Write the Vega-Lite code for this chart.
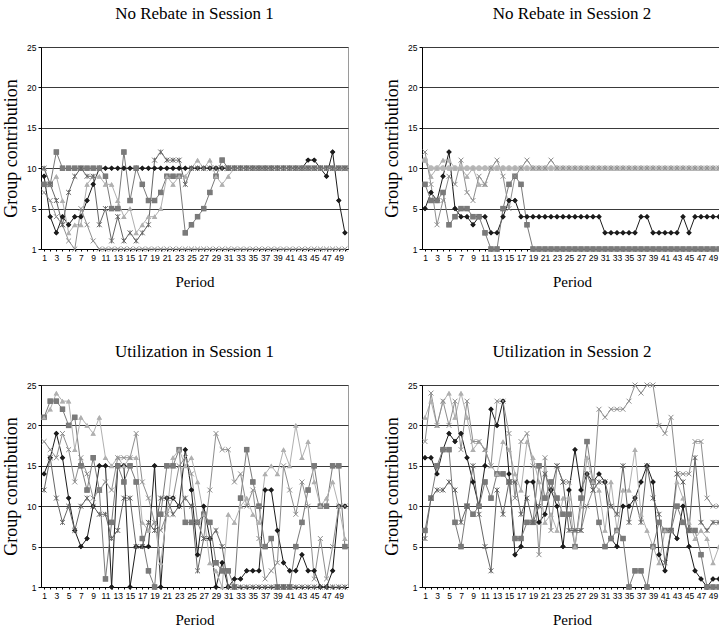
{
"$schema": "https://vega.github.io/schema/vega-lite/v6.json",
"padding": {"left": 2, "top": 4, "right": 0, "bottom": 0},
"background": "white",
"datasets": {
"nr1": [
{"s":"A","t":1,"v":9},{"s":"A","t":2,"v":4},{"s":"A","t":3,"v":2},{"s":"A","t":4,"v":4},{"s":"A","t":5,"v":3},{"s":"A","t":6,"v":4},{"s":"A","t":7,"v":4},{"s":"A","t":8,"v":6},{"s":"A","t":9,"v":8},{"s":"A","t":10,"v":10},
{"s":"A","t":11,"v":10},{"s":"A","t":12,"v":10},{"s":"A","t":13,"v":10},{"s":"A","t":14,"v":10},{"s":"A","t":15,"v":10},{"s":"A","t":16,"v":10},{"s":"A","t":17,"v":10},{"s":"A","t":18,"v":10},{"s":"A","t":19,"v":10},{"s":"A","t":20,"v":10},
{"s":"A","t":21,"v":10},{"s":"A","t":22,"v":10},{"s":"A","t":23,"v":10},{"s":"A","t":24,"v":10},{"s":"A","t":25,"v":10},{"s":"A","t":26,"v":10},{"s":"A","t":27,"v":10},{"s":"A","t":28,"v":10},{"s":"A","t":29,"v":10},{"s":"A","t":30,"v":10},
{"s":"A","t":31,"v":10},{"s":"A","t":32,"v":10},{"s":"A","t":33,"v":10},{"s":"A","t":34,"v":10},{"s":"A","t":35,"v":10},{"s":"A","t":36,"v":10},{"s":"A","t":37,"v":10},{"s":"A","t":38,"v":10},{"s":"A","t":39,"v":10},{"s":"A","t":40,"v":10},
{"s":"A","t":41,"v":10},{"s":"A","t":42,"v":10},{"s":"A","t":43,"v":10},{"s":"A","t":44,"v":11},{"s":"A","t":45,"v":11},{"s":"A","t":46,"v":10},{"s":"A","t":47,"v":9},{"s":"A","t":48,"v":12},{"s":"A","t":49,"v":6},{"s":"A","t":50,"v":2},
{"s":"B","t":1,"v":8},{"s":"B","t":2,"v":8},{"s":"B","t":3,"v":12},{"s":"B","t":4,"v":10},{"s":"B","t":5,"v":10},{"s":"B","t":6,"v":10},{"s":"B","t":7,"v":10},{"s":"B","t":8,"v":10},{"s":"B","t":9,"v":10},{"s":"B","t":10,"v":10},
{"s":"B","t":11,"v":9},{"s":"B","t":12,"v":5},{"s":"B","t":13,"v":5},{"s":"B","t":14,"v":12},{"s":"B","t":15,"v":6},{"s":"B","t":16,"v":10},{"s":"B","t":17,"v":8},{"s":"B","t":18,"v":6},{"s":"B","t":19,"v":6},{"s":"B","t":20,"v":7},
{"s":"B","t":21,"v":9},{"s":"B","t":22,"v":9},{"s":"B","t":23,"v":9},{"s":"B","t":24,"v":2},{"s":"B","t":25,"v":3},{"s":"B","t":26,"v":4},{"s":"B","t":27,"v":5},{"s":"B","t":28,"v":7},{"s":"B","t":29,"v":9},{"s":"B","t":30,"v":11},
{"s":"B","t":31,"v":10},{"s":"B","t":32,"v":10},{"s":"B","t":33,"v":10},{"s":"B","t":34,"v":10},{"s":"B","t":35,"v":10},{"s":"B","t":36,"v":10},{"s":"B","t":37,"v":10},{"s":"B","t":38,"v":10},{"s":"B","t":39,"v":10},{"s":"B","t":40,"v":10},
{"s":"B","t":41,"v":10},{"s":"B","t":42,"v":10},{"s":"B","t":43,"v":10},{"s":"B","t":44,"v":10},{"s":"B","t":45,"v":10},{"s":"B","t":46,"v":10},{"s":"B","t":47,"v":10},{"s":"B","t":48,"v":10},{"s":"B","t":49,"v":10},{"s":"B","t":50,"v":10},
{"s":"C","t":1,"v":10},{"s":"C","t":2,"v":8},{"s":"C","t":3,"v":9},{"s":"C","t":4,"v":6},{"s":"C","t":5,"v":2},{"s":"C","t":6,"v":3},{"s":"C","t":7,"v":3},{"s":"C","t":8,"v":8},{"s":"C","t":9,"v":9},{"s":"C","t":10,"v":9},
{"s":"C","t":11,"v":8},{"s":"C","t":12,"v":8},{"s":"C","t":13,"v":6},{"s":"C","t":14,"v":4},{"s":"C","t":15,"v":5},{"s":"C","t":16,"v":2},{"s":"C","t":17,"v":3},{"s":"C","t":18,"v":4},{"s":"C","t":19,"v":4},{"s":"C","t":20,"v":5},
{"s":"C","t":21,"v":9},{"s":"C","t":22,"v":8},{"s":"C","t":23,"v":9},{"s":"C","t":24,"v":9},{"s":"C","t":25,"v":10},{"s":"C","t":26,"v":11},{"s":"C","t":27,"v":10},{"s":"C","t":28,"v":11},{"s":"C","t":29,"v":9},{"s":"C","t":30,"v":8},
{"s":"C","t":31,"v":9},{"s":"C","t":32,"v":10},{"s":"C","t":33,"v":10},{"s":"C","t":34,"v":10},{"s":"C","t":35,"v":10},{"s":"C","t":36,"v":10},{"s":"C","t":37,"v":10},{"s":"C","t":38,"v":10},{"s":"C","t":39,"v":10},{"s":"C","t":40,"v":10},
{"s":"C","t":41,"v":10},{"s":"C","t":42,"v":10},{"s":"C","t":43,"v":10},{"s":"C","t":44,"v":10},{"s":"C","t":45,"v":10},{"s":"C","t":46,"v":10},{"s":"C","t":47,"v":10},{"s":"C","t":48,"v":10},{"s":"C","t":49,"v":10},{"s":"C","t":50,"v":10},
{"s":"D","t":1,"v":7},{"s":"D","t":2,"v":6},{"s":"D","t":3,"v":4},{"s":"D","t":4,"v":3},{"s":"D","t":5,"v":1},{"s":"D","t":6,"v":0},{"s":"D","t":7,"v":5},{"s":"D","t":8,"v":3},{"s":"D","t":9,"v":1},{"s":"D","t":10,"v":0},
{"s":"D","t":11,"v":0},{"s":"D","t":12,"v":0},{"s":"D","t":13,"v":0},{"s":"D","t":14,"v":0},{"s":"D","t":15,"v":0},{"s":"D","t":16,"v":0},{"s":"D","t":17,"v":0},{"s":"D","t":18,"v":0},{"s":"D","t":19,"v":0},{"s":"D","t":20,"v":0},
{"s":"D","t":21,"v":0},{"s":"D","t":22,"v":0},{"s":"D","t":23,"v":0},{"s":"D","t":24,"v":0},{"s":"D","t":25,"v":0},{"s":"D","t":26,"v":0},{"s":"D","t":27,"v":0},{"s":"D","t":28,"v":0},{"s":"D","t":29,"v":0},{"s":"D","t":30,"v":0},
{"s":"D","t":31,"v":0},{"s":"D","t":32,"v":0},{"s":"D","t":33,"v":0},{"s":"D","t":34,"v":0},{"s":"D","t":35,"v":0},{"s":"D","t":36,"v":0},{"s":"D","t":37,"v":0},{"s":"D","t":38,"v":0},{"s":"D","t":39,"v":0},{"s":"D","t":40,"v":0},
{"s":"D","t":41,"v":0},{"s":"D","t":42,"v":0},{"s":"D","t":43,"v":0},{"s":"D","t":44,"v":0},{"s":"D","t":45,"v":0},{"s":"D","t":46,"v":0},{"s":"D","t":47,"v":0},{"s":"D","t":48,"v":0},{"s":"D","t":49,"v":0},{"s":"D","t":50,"v":0},
{"s":"E","t":1,"v":10},{"s":"E","t":2,"v":8},{"s":"E","t":3,"v":6},{"s":"E","t":4,"v":3},{"s":"E","t":5,"v":7},{"s":"E","t":6,"v":9},{"s":"E","t":7,"v":10},{"s":"E","t":8,"v":9},{"s":"E","t":9,"v":9},{"s":"E","t":10,"v":3},
{"s":"E","t":11,"v":5},{"s":"E","t":12,"v":1},{"s":"E","t":13,"v":4},{"s":"E","t":14,"v":1},{"s":"E","t":15,"v":2},{"s":"E","t":16,"v":1},{"s":"E","t":17,"v":2},{"s":"E","t":18,"v":3},{"s":"E","t":19,"v":11},{"s":"E","t":20,"v":12},
{"s":"E","t":21,"v":11},{"s":"E","t":22,"v":11},{"s":"E","t":23,"v":11},{"s":"E","t":24,"v":8},{"s":"E","t":25,"v":10},{"s":"E","t":26,"v":10},{"s":"E","t":27,"v":10},{"s":"E","t":28,"v":10},{"s":"E","t":29,"v":10},{"s":"E","t":30,"v":10},
{"s":"E","t":31,"v":10},{"s":"E","t":32,"v":10},{"s":"E","t":33,"v":10},{"s":"E","t":34,"v":10},{"s":"E","t":35,"v":10},{"s":"E","t":36,"v":10},{"s":"E","t":37,"v":10},{"s":"E","t":38,"v":10},{"s":"E","t":39,"v":10},{"s":"E","t":40,"v":10},
{"s":"E","t":41,"v":10},{"s":"E","t":42,"v":10},{"s":"E","t":43,"v":10},{"s":"E","t":44,"v":10},{"s":"E","t":45,"v":10},{"s":"E","t":46,"v":10},{"s":"E","t":47,"v":10},{"s":"E","t":48,"v":10},{"s":"E","t":49,"v":10},{"s":"E","t":50,"v":10}
],
"nr2": [
{"s":"A","t":1,"v":5},{"s":"A","t":2,"v":7},{"s":"A","t":3,"v":6},{"s":"A","t":4,"v":9},{"s":"A","t":5,"v":12},{"s":"A","t":6,"v":5},{"s":"A","t":7,"v":4},{"s":"A","t":8,"v":4},{"s":"A","t":9,"v":3},{"s":"A","t":10,"v":4},
{"s":"A","t":11,"v":4},{"s":"A","t":12,"v":2},{"s":"A","t":13,"v":2},{"s":"A","t":14,"v":4},{"s":"A","t":15,"v":6},{"s":"A","t":16,"v":6},{"s":"A","t":17,"v":4},{"s":"A","t":18,"v":4},{"s":"A","t":19,"v":4},{"s":"A","t":20,"v":4},
{"s":"A","t":21,"v":4},{"s":"A","t":22,"v":4},{"s":"A","t":23,"v":4},{"s":"A","t":24,"v":4},{"s":"A","t":25,"v":4},{"s":"A","t":26,"v":4},{"s":"A","t":27,"v":4},{"s":"A","t":28,"v":4},{"s":"A","t":29,"v":4},{"s":"A","t":30,"v":4},
{"s":"A","t":31,"v":2},{"s":"A","t":32,"v":2},{"s":"A","t":33,"v":2},{"s":"A","t":34,"v":2},{"s":"A","t":35,"v":2},{"s":"A","t":36,"v":2},{"s":"A","t":37,"v":4},{"s":"A","t":38,"v":4},{"s":"A","t":39,"v":2},{"s":"A","t":40,"v":2},
{"s":"A","t":41,"v":2},{"s":"A","t":42,"v":2},{"s":"A","t":43,"v":2},{"s":"A","t":44,"v":4},{"s":"A","t":45,"v":2},{"s":"A","t":46,"v":4},{"s":"A","t":47,"v":4},{"s":"A","t":48,"v":4},{"s":"A","t":49,"v":4},{"s":"A","t":50,"v":4},
{"s":"B","t":1,"v":8},{"s":"B","t":2,"v":6},{"s":"B","t":3,"v":6},{"s":"B","t":4,"v":7},{"s":"B","t":5,"v":3},{"s":"B","t":6,"v":4},{"s":"B","t":7,"v":5},{"s":"B","t":8,"v":5},{"s":"B","t":9,"v":4},{"s":"B","t":10,"v":4},
{"s":"B","t":11,"v":2},{"s":"B","t":12,"v":0},{"s":"B","t":13,"v":0},{"s":"B","t":14,"v":5},{"s":"B","t":15,"v":8},{"s":"B","t":16,"v":9},{"s":"B","t":17,"v":8},{"s":"B","t":18,"v":3},{"s":"B","t":19,"v":0},{"s":"B","t":20,"v":0},
{"s":"B","t":21,"v":0},{"s":"B","t":22,"v":0},{"s":"B","t":23,"v":0},{"s":"B","t":24,"v":0},{"s":"B","t":25,"v":0},{"s":"B","t":26,"v":0},{"s":"B","t":27,"v":0},{"s":"B","t":28,"v":0},{"s":"B","t":29,"v":0},{"s":"B","t":30,"v":0},
{"s":"B","t":31,"v":0},{"s":"B","t":32,"v":0},{"s":"B","t":33,"v":0},{"s":"B","t":34,"v":0},{"s":"B","t":35,"v":0},{"s":"B","t":36,"v":0},{"s":"B","t":37,"v":0},{"s":"B","t":38,"v":0},{"s":"B","t":39,"v":0},{"s":"B","t":40,"v":0},
{"s":"B","t":41,"v":0},{"s":"B","t":42,"v":0},{"s":"B","t":43,"v":0},{"s":"B","t":44,"v":0},{"s":"B","t":45,"v":0},{"s":"B","t":46,"v":0},{"s":"B","t":47,"v":0},{"s":"B","t":48,"v":0},{"s":"B","t":49,"v":0},{"s":"B","t":50,"v":0},
{"s":"C","t":1,"v":11},{"s":"C","t":2,"v":9},{"s":"C","t":3,"v":10},{"s":"C","t":4,"v":11},{"s":"C","t":5,"v":11},{"s":"C","t":6,"v":10},{"s":"C","t":7,"v":10},{"s":"C","t":8,"v":9},{"s":"C","t":9,"v":10},{"s":"C","t":10,"v":8},
{"s":"C","t":11,"v":8},{"s":"C","t":12,"v":10},{"s":"C","t":13,"v":10},{"s":"C","t":14,"v":10},{"s":"C","t":15,"v":10},{"s":"C","t":16,"v":10},{"s":"C","t":17,"v":10},{"s":"C","t":18,"v":10},{"s":"C","t":19,"v":10},{"s":"C","t":20,"v":10},
{"s":"C","t":21,"v":10},{"s":"C","t":22,"v":10},{"s":"C","t":23,"v":10},{"s":"C","t":24,"v":10},{"s":"C","t":25,"v":10},{"s":"C","t":26,"v":10},{"s":"C","t":27,"v":10},{"s":"C","t":28,"v":10},{"s":"C","t":29,"v":10},{"s":"C","t":30,"v":10},
{"s":"C","t":31,"v":10},{"s":"C","t":32,"v":10},{"s":"C","t":33,"v":10},{"s":"C","t":34,"v":10},{"s":"C","t":35,"v":10},{"s":"C","t":36,"v":10},{"s":"C","t":37,"v":10},{"s":"C","t":38,"v":10},{"s":"C","t":39,"v":10},{"s":"C","t":40,"v":10},
{"s":"C","t":41,"v":10},{"s":"C","t":42,"v":10},{"s":"C","t":43,"v":10},{"s":"C","t":44,"v":10},{"s":"C","t":45,"v":10},{"s":"C","t":46,"v":10},{"s":"C","t":47,"v":10},{"s":"C","t":48,"v":10},{"s":"C","t":49,"v":10},{"s":"C","t":50,"v":10},
{"s":"F","t":1,"v":11},{"s":"F","t":2,"v":10},{"s":"F","t":3,"v":10},{"s":"F","t":4,"v":10},{"s":"F","t":5,"v":10},{"s":"F","t":6,"v":10},{"s":"F","t":7,"v":10},{"s":"F","t":8,"v":10},{"s":"F","t":9,"v":10},{"s":"F","t":10,"v":10},
{"s":"F","t":11,"v":10},{"s":"F","t":12,"v":10},{"s":"F","t":13,"v":10},{"s":"F","t":14,"v":10},{"s":"F","t":15,"v":10},{"s":"F","t":16,"v":10},{"s":"F","t":17,"v":10},{"s":"F","t":18,"v":10},{"s":"F","t":19,"v":10},{"s":"F","t":20,"v":10},
{"s":"F","t":21,"v":10},{"s":"F","t":22,"v":10},{"s":"F","t":23,"v":10},{"s":"F","t":24,"v":10},{"s":"F","t":25,"v":10},{"s":"F","t":26,"v":10},{"s":"F","t":27,"v":10},{"s":"F","t":28,"v":10},{"s":"F","t":29,"v":10},{"s":"F","t":30,"v":10},
{"s":"F","t":31,"v":10},{"s":"F","t":32,"v":10},{"s":"F","t":33,"v":10},{"s":"F","t":34,"v":10},{"s":"F","t":35,"v":10},{"s":"F","t":36,"v":10},{"s":"F","t":37,"v":10},{"s":"F","t":38,"v":10},{"s":"F","t":39,"v":10},{"s":"F","t":40,"v":10},
{"s":"F","t":41,"v":10},{"s":"F","t":42,"v":10},{"s":"F","t":43,"v":10},{"s":"F","t":44,"v":10},{"s":"F","t":45,"v":10},{"s":"F","t":46,"v":10},{"s":"F","t":47,"v":10},{"s":"F","t":48,"v":10},{"s":"F","t":49,"v":10},{"s":"F","t":50,"v":10},
{"s":"D","t":1,"v":12},{"s":"D","t":2,"v":8},{"s":"D","t":3,"v":3},{"s":"D","t":4,"v":6},{"s":"D","t":5,"v":9},{"s":"D","t":6,"v":8},{"s":"D","t":7,"v":11},{"s":"D","t":8,"v":7},{"s":"D","t":9,"v":6},{"s":"D","t":10,"v":9},
{"s":"D","t":11,"v":8},{"s":"D","t":12,"v":10},{"s":"D","t":13,"v":11},{"s":"D","t":14,"v":9},{"s":"D","t":15,"v":5},{"s":"D","t":16,"v":9},{"s":"D","t":17,"v":10},{"s":"D","t":18,"v":11},{"s":"D","t":19,"v":10},{"s":"D","t":20,"v":10},
{"s":"D","t":21,"v":10},{"s":"D","t":22,"v":11},{"s":"D","t":23,"v":10},{"s":"D","t":24,"v":10},{"s":"D","t":25,"v":10},{"s":"D","t":26,"v":10},{"s":"D","t":27,"v":10},{"s":"D","t":28,"v":10},{"s":"D","t":29,"v":10},{"s":"D","t":30,"v":10},
{"s":"D","t":31,"v":10},{"s":"D","t":32,"v":10},{"s":"D","t":33,"v":10},{"s":"D","t":34,"v":10},{"s":"D","t":35,"v":10},{"s":"D","t":36,"v":10},{"s":"D","t":37,"v":10},{"s":"D","t":38,"v":10},{"s":"D","t":39,"v":10},{"s":"D","t":40,"v":10},
{"s":"D","t":41,"v":10},{"s":"D","t":42,"v":10},{"s":"D","t":43,"v":10},{"s":"D","t":44,"v":10},{"s":"D","t":45,"v":10},{"s":"D","t":46,"v":10},{"s":"D","t":47,"v":10},{"s":"D","t":48,"v":10},{"s":"D","t":49,"v":10},{"s":"D","t":50,"v":10}
],
"u1": [
{"s":"A","t":1,"v":14},{"s":"A","t":2,"v":16},{"s":"A","t":3,"v":19},{"s":"A","t":4,"v":16},{"s":"A","t":5,"v":11},{"s":"A","t":6,"v":7},{"s":"A","t":7,"v":5},{"s":"A","t":8,"v":6},{"s":"A","t":9,"v":10},{"s":"A","t":10,"v":15},
{"s":"A","t":11,"v":15},{"s":"A","t":12,"v":0},{"s":"A","t":13,"v":15},{"s":"A","t":14,"v":15},{"s":"A","t":15,"v":0},{"s":"A","t":16,"v":5},{"s":"A","t":17,"v":5},{"s":"A","t":18,"v":5},{"s":"A","t":19,"v":15},{"s":"A","t":20,"v":0},
{"s":"A","t":21,"v":11},{"s":"A","t":22,"v":11},{"s":"A","t":23,"v":10},{"s":"A","t":24,"v":17},{"s":"A","t":25,"v":12},{"s":"A","t":26,"v":4},{"s":"A","t":27,"v":10},{"s":"A","t":28,"v":6},{"s":"A","t":29,"v":0},{"s":"A","t":30,"v":3},
{"s":"A","t":31,"v":0},{"s":"A","t":32,"v":1},{"s":"A","t":33,"v":1},{"s":"A","t":34,"v":2},{"s":"A","t":35,"v":2},{"s":"A","t":36,"v":2},{"s":"A","t":37,"v":12},{"s":"A","t":38,"v":12},{"s":"A","t":39,"v":7},{"s":"A","t":40,"v":3},
{"s":"A","t":41,"v":2},{"s":"A","t":42,"v":2},{"s":"A","t":43,"v":4},{"s":"A","t":44,"v":2},{"s":"A","t":45,"v":2},{"s":"A","t":46,"v":0},{"s":"A","t":47,"v":0},{"s":"A","t":48,"v":2},{"s":"A","t":49,"v":10},{"s":"A","t":50,"v":10},
{"s":"B","t":1,"v":21},{"s":"B","t":2,"v":23},{"s":"B","t":3,"v":23},{"s":"B","t":4,"v":22},{"s":"B","t":5,"v":20},{"s":"B","t":6,"v":21},{"s":"B","t":7,"v":15},{"s":"B","t":8,"v":12},{"s":"B","t":9,"v":16},{"s":"B","t":10,"v":12},
{"s":"B","t":11,"v":1},{"s":"B","t":12,"v":8},{"s":"B","t":13,"v":15},{"s":"B","t":14,"v":13},{"s":"B","t":15,"v":15},{"s":"B","t":16,"v":13},{"s":"B","t":17,"v":6},{"s":"B","t":18,"v":2},{"s":"B","t":19,"v":0},{"s":"B","t":20,"v":9},
{"s":"B","t":21,"v":15},{"s":"B","t":22,"v":15},{"s":"B","t":23,"v":17},{"s":"B","t":24,"v":8},{"s":"B","t":25,"v":8},{"s":"B","t":26,"v":8},{"s":"B","t":27,"v":9},{"s":"B","t":28,"v":8},{"s":"B","t":29,"v":3},{"s":"B","t":30,"v":2},
{"s":"B","t":31,"v":2},{"s":"B","t":32,"v":0},{"s":"B","t":33,"v":11},{"s":"B","t":34,"v":17},{"s":"B","t":35,"v":13},{"s":"B","t":36,"v":10},{"s":"B","t":37,"v":5},{"s":"B","t":38,"v":6},{"s":"B","t":39,"v":0},{"s":"B","t":40,"v":0},
{"s":"B","t":41,"v":0},{"s":"B","t":42,"v":5},{"s":"B","t":43,"v":8},{"s":"B","t":44,"v":12},{"s":"B","t":45,"v":15},{"s":"B","t":46,"v":10},{"s":"B","t":47,"v":10},{"s":"B","t":48,"v":15},{"s":"B","t":49,"v":15},{"s":"B","t":50,"v":5},
{"s":"C","t":1,"v":21},{"s":"C","t":2,"v":22},{"s":"C","t":3,"v":24},{"s":"C","t":4,"v":23},{"s":"C","t":5,"v":23},{"s":"C","t":6,"v":17},{"s":"C","t":7,"v":21},{"s":"C","t":8,"v":20},{"s":"C","t":9,"v":19},{"s":"C","t":10,"v":21},
{"s":"C","t":11,"v":16},{"s":"C","t":12,"v":15},{"s":"C","t":13,"v":16},{"s":"C","t":14,"v":15},{"s":"C","t":15,"v":16},{"s":"C","t":16,"v":16},{"s":"C","t":17,"v":8},{"s":"C","t":18,"v":7},{"s":"C","t":19,"v":8},{"s":"C","t":20,"v":3},
{"s":"C","t":21,"v":9},{"s":"C","t":22,"v":16},{"s":"C","t":23,"v":17},{"s":"C","t":24,"v":15},{"s":"C","t":25,"v":16},{"s":"C","t":26,"v":13},{"s":"C","t":27,"v":9},{"s":"C","t":28,"v":3},{"s":"C","t":29,"v":2},{"s":"C","t":30,"v":0},
{"s":"C","t":31,"v":9},{"s":"C","t":32,"v":8},{"s":"C","t":33,"v":10},{"s":"C","t":34,"v":11},{"s":"C","t":35,"v":9},{"s":"C","t":36,"v":8},{"s":"C","t":37,"v":14},{"s":"C","t":38,"v":15},{"s":"C","t":39,"v":14},{"s":"C","t":40,"v":17},
{"s":"C","t":41,"v":15},{"s":"C","t":42,"v":20},{"s":"C","t":43,"v":16},{"s":"C","t":44,"v":18},{"s":"C","t":45,"v":13},{"s":"C","t":46,"v":10},{"s":"C","t":47,"v":11},{"s":"C","t":48,"v":13},{"s":"C","t":49,"v":10},{"s":"C","t":50,"v":6},
{"s":"D","t":1,"v":18},{"s":"D","t":2,"v":17},{"s":"D","t":3,"v":16},{"s":"D","t":4,"v":19},{"s":"D","t":5,"v":17},{"s":"D","t":6,"v":13},{"s":"D","t":7,"v":16},{"s":"D","t":8,"v":14},{"s":"D","t":9,"v":11},{"s":"D","t":10,"v":12},
{"s":"D","t":11,"v":13},{"s":"D","t":12,"v":12},{"s":"D","t":13,"v":16},{"s":"D","t":14,"v":16},{"s":"D","t":15,"v":16},{"s":"D","t":16,"v":19},{"s":"D","t":17,"v":13},{"s":"D","t":18,"v":11},{"s":"D","t":19,"v":8},{"s":"D","t":20,"v":7},
{"s":"D","t":21,"v":9},{"s":"D","t":22,"v":11},{"s":"D","t":23,"v":15},{"s":"D","t":24,"v":16},{"s":"D","t":25,"v":14},{"s":"D","t":26,"v":8},{"s":"D","t":27,"v":6},{"s":"D","t":28,"v":12},{"s":"D","t":29,"v":19},{"s":"D","t":30,"v":17},
{"s":"D","t":31,"v":17},{"s":"D","t":32,"v":13},{"s":"D","t":33,"v":14},{"s":"D","t":34,"v":10},{"s":"D","t":35,"v":12},{"s":"D","t":36,"v":6},{"s":"D","t":37,"v":1},{"s":"D","t":38,"v":2},{"s":"D","t":39,"v":3},{"s":"D","t":40,"v":15},
{"s":"D","t":41,"v":12},{"s":"D","t":42,"v":9},{"s":"D","t":43,"v":13},{"s":"D","t":44,"v":10},{"s":"D","t":45,"v":1},{"s":"D","t":46,"v":6},{"s":"D","t":47,"v":1},{"s":"D","t":48,"v":5},{"s":"D","t":49,"v":10},{"s":"D","t":50,"v":10},
{"s":"E","t":1,"v":12},{"s":"E","t":2,"v":16},{"s":"E","t":3,"v":11},{"s":"E","t":4,"v":8},{"s":"E","t":5,"v":10},{"s":"E","t":6,"v":7},{"s":"E","t":7,"v":10},{"s":"E","t":8,"v":11},{"s":"E","t":9,"v":10},{"s":"E","t":10,"v":9},
{"s":"E","t":11,"v":9},{"s":"E","t":12,"v":6},{"s":"E","t":13,"v":7},{"s":"E","t":14,"v":11},{"s":"E","t":15,"v":11},{"s":"E","t":16,"v":5},{"s":"E","t":17,"v":5},{"s":"E","t":18,"v":8},{"s":"E","t":19,"v":7},{"s":"E","t":20,"v":11},
{"s":"E","t":21,"v":11},{"s":"E","t":22,"v":9},{"s":"E","t":23,"v":10},{"s":"E","t":24,"v":11},{"s":"E","t":25,"v":10},{"s":"E","t":26,"v":2},{"s":"E","t":27,"v":6},{"s":"E","t":28,"v":6},{"s":"E","t":29,"v":7},{"s":"E","t":30,"v":5},
{"s":"E","t":31,"v":0},{"s":"E","t":32,"v":0},{"s":"E","t":33,"v":0},{"s":"E","t":34,"v":0},{"s":"E","t":35,"v":0},{"s":"E","t":36,"v":0},{"s":"E","t":37,"v":0},{"s":"E","t":38,"v":0},{"s":"E","t":39,"v":0},{"s":"E","t":40,"v":0},
{"s":"E","t":41,"v":0},{"s":"E","t":42,"v":0},{"s":"E","t":43,"v":0},{"s":"E","t":44,"v":0},{"s":"E","t":45,"v":0},{"s":"E","t":46,"v":0},{"s":"E","t":47,"v":0},{"s":"E","t":48,"v":0},{"s":"E","t":49,"v":0},{"s":"E","t":50,"v":0}
],
"u2": [
{"s":"A","t":1,"v":16},{"s":"A","t":2,"v":16},{"s":"A","t":3,"v":14},{"s":"A","t":4,"v":17},{"s":"A","t":5,"v":19},{"s":"A","t":6,"v":18},{"s":"A","t":7,"v":19},{"s":"A","t":8,"v":16},{"s":"A","t":9,"v":13},{"s":"A","t":10,"v":10},
{"s":"A","t":11,"v":15},{"s":"A","t":12,"v":22},{"s":"A","t":13,"v":20},{"s":"A","t":14,"v":23},{"s":"A","t":15,"v":14},{"s":"A","t":16,"v":4},{"s":"A","t":17,"v":5},{"s":"A","t":18,"v":13},{"s":"A","t":19,"v":13},{"s":"A","t":20,"v":8},
{"s":"A","t":21,"v":9},{"s":"A","t":22,"v":12},{"s":"A","t":23,"v":10},{"s":"A","t":24,"v":5},{"s":"A","t":25,"v":12},{"s":"A","t":26,"v":17},{"s":"A","t":27,"v":12},{"s":"A","t":28,"v":14},{"s":"A","t":29,"v":13},{"s":"A","t":30,"v":14},
{"s":"A","t":31,"v":13},{"s":"A","t":32,"v":6},{"s":"A","t":33,"v":5},{"s":"A","t":34,"v":10},{"s":"A","t":35,"v":10},{"s":"A","t":36,"v":11},{"s":"A","t":37,"v":13},{"s":"A","t":38,"v":15},{"s":"A","t":39,"v":13},{"s":"A","t":40,"v":4},
{"s":"A","t":41,"v":2},{"s":"A","t":42,"v":7},{"s":"A","t":43,"v":6},{"s":"A","t":44,"v":10},{"s":"A","t":45,"v":5},{"s":"A","t":46,"v":2},{"s":"A","t":47,"v":1},{"s":"A","t":48,"v":0},{"s":"A","t":49,"v":1},{"s":"A","t":50,"v":1},
{"s":"B","t":1,"v":7},{"s":"B","t":2,"v":11},{"s":"B","t":3,"v":15},{"s":"B","t":4,"v":17},{"s":"B","t":5,"v":17},{"s":"B","t":6,"v":8},{"s":"B","t":7,"v":5},{"s":"B","t":8,"v":10},{"s":"B","t":9,"v":9},{"s":"B","t":10,"v":10},
{"s":"B","t":11,"v":13},{"s":"B","t":12,"v":11},{"s":"B","t":13,"v":14},{"s":"B","t":14,"v":14},{"s":"B","t":15,"v":13},{"s":"B","t":16,"v":6},{"s":"B","t":17,"v":6},{"s":"B","t":18,"v":8},{"s":"B","t":19,"v":8},{"s":"B","t":20,"v":15},
{"s":"B","t":21,"v":11},{"s":"B","t":22,"v":13},{"s":"B","t":23,"v":11},{"s":"B","t":24,"v":9},{"s":"B","t":25,"v":9},{"s":"B","t":26,"v":5},{"s":"B","t":27,"v":11},{"s":"B","t":28,"v":18},{"s":"B","t":29,"v":13},{"s":"B","t":30,"v":8},
{"s":"B","t":31,"v":5},{"s":"B","t":32,"v":6},{"s":"B","t":33,"v":7},{"s":"B","t":34,"v":6},{"s":"B","t":35,"v":0},{"s":"B","t":36,"v":2},{"s":"B","t":37,"v":2},{"s":"B","t":38,"v":0},{"s":"B","t":39,"v":5},{"s":"B","t":40,"v":8},
{"s":"B","t":41,"v":7},{"s":"B","t":42,"v":7},{"s":"B","t":43,"v":10},{"s":"B","t":44,"v":8},{"s":"B","t":45,"v":7},{"s":"B","t":46,"v":7},{"s":"B","t":47,"v":4},{"s":"B","t":48,"v":0},{"s":"B","t":49,"v":0},{"s":"B","t":50,"v":0},
{"s":"C","t":1,"v":21},{"s":"C","t":2,"v":23},{"s":"C","t":3,"v":20},{"s":"C","t":4,"v":23},{"s":"C","t":5,"v":24},{"s":"C","t":6,"v":21},{"s":"C","t":7,"v":24},{"s":"C","t":8,"v":21},{"s":"C","t":9,"v":17},{"s":"C","t":10,"v":18},
{"s":"C","t":11,"v":17},{"s":"C","t":12,"v":15},{"s":"C","t":13,"v":14},{"s":"C","t":14,"v":18},{"s":"C","t":15,"v":17},{"s":"C","t":16,"v":14},{"s":"C","t":17,"v":12},{"s":"C","t":18,"v":18},{"s":"C","t":19,"v":16},{"s":"C","t":20,"v":13},
{"s":"C","t":21,"v":8},{"s":"C","t":22,"v":9},{"s":"C","t":23,"v":7},{"s":"C","t":24,"v":11},{"s":"C","t":25,"v":11},{"s":"C","t":26,"v":5},{"s":"C","t":27,"v":10},{"s":"C","t":28,"v":16},{"s":"C","t":29,"v":13},{"s":"C","t":30,"v":12},
{"s":"C","t":31,"v":7},{"s":"C","t":32,"v":13},{"s":"C","t":33,"v":7},{"s":"C","t":34,"v":12},{"s":"C","t":35,"v":12},{"s":"C","t":36,"v":17},{"s":"C","t":37,"v":9},{"s":"C","t":38,"v":7},{"s":"C","t":39,"v":5},{"s":"C","t":40,"v":3},
{"s":"C","t":41,"v":7},{"s":"C","t":42,"v":7},{"s":"C","t":43,"v":13},{"s":"C","t":44,"v":11},{"s":"C","t":45,"v":8},{"s":"C","t":46,"v":6},{"s":"C","t":47,"v":7},{"s":"C","t":48,"v":6},{"s":"C","t":49,"v":3},{"s":"C","t":50,"v":5},
{"s":"D","t":1,"v":18},{"s":"D","t":2,"v":24},{"s":"D","t":3,"v":20},{"s":"D","t":4,"v":23},{"s":"D","t":5,"v":20},{"s":"D","t":6,"v":23},{"s":"D","t":7,"v":17},{"s":"D","t":8,"v":23},{"s":"D","t":9,"v":18},{"s":"D","t":10,"v":18},
{"s":"D","t":11,"v":17},{"s":"D","t":12,"v":15},{"s":"D","t":13,"v":23},{"s":"D","t":14,"v":23},{"s":"D","t":15,"v":19},{"s":"D","t":16,"v":11},{"s":"D","t":17,"v":18},{"s":"D","t":18,"v":19},{"s":"D","t":19,"v":15},{"s":"D","t":20,"v":4},
{"s":"D","t":21,"v":16},{"s":"D","t":22,"v":7},{"s":"D","t":23,"v":15},{"s":"D","t":24,"v":13},{"s":"D","t":25,"v":13},{"s":"D","t":26,"v":7},{"s":"D","t":27,"v":7},{"s":"D","t":28,"v":10},{"s":"D","t":29,"v":12},{"s":"D","t":30,"v":22},
{"s":"D","t":31,"v":21},{"s":"D","t":32,"v":22},{"s":"D","t":33,"v":22},{"s":"D","t":34,"v":22},{"s":"D","t":35,"v":23},{"s":"D","t":36,"v":25},{"s":"D","t":37,"v":24},{"s":"D","t":38,"v":25},{"s":"D","t":39,"v":25},{"s":"D","t":40,"v":20},
{"s":"D","t":41,"v":19},{"s":"D","t":42,"v":21},{"s":"D","t":43,"v":14},{"s":"D","t":44,"v":14},{"s":"D","t":45,"v":14},{"s":"D","t":46,"v":18},{"s":"D","t":47,"v":18},{"s":"D","t":48,"v":11},{"s":"D","t":49,"v":10},{"s":"D","t":50,"v":10},
{"s":"E","t":1,"v":6},{"s":"E","t":2,"v":11},{"s":"E","t":3,"v":12},{"s":"E","t":4,"v":12},{"s":"E","t":5,"v":13},{"s":"E","t":6,"v":12},{"s":"E","t":7,"v":8},{"s":"E","t":8,"v":10},{"s":"E","t":9,"v":15},{"s":"E","t":10,"v":9},
{"s":"E","t":11,"v":5},{"s":"E","t":12,"v":2},{"s":"E","t":13,"v":12},{"s":"E","t":14,"v":9},{"s":"E","t":15,"v":13},{"s":"E","t":16,"v":13},{"s":"E","t":17,"v":9},{"s":"E","t":18,"v":11},{"s":"E","t":19,"v":8},{"s":"E","t":20,"v":10},
{"s":"E","t":21,"v":14},{"s":"E","t":22,"v":12},{"s":"E","t":23,"v":15},{"s":"E","t":24,"v":13},{"s":"E","t":25,"v":7},{"s":"E","t":26,"v":7},{"s":"E","t":27,"v":7},{"s":"E","t":28,"v":14},{"s":"E","t":29,"v":12},{"s":"E","t":30,"v":13},
{"s":"E","t":31,"v":13},{"s":"E","t":32,"v":10},{"s":"E","t":33,"v":9},{"s":"E","t":34,"v":15},{"s":"E","t":35,"v":8},{"s":"E","t":36,"v":11},{"s":"E","t":37,"v":8},{"s":"E","t":38,"v":15},{"s":"E","t":39,"v":11},{"s":"E","t":40,"v":9},
{"s":"E","t":41,"v":3},{"s":"E","t":42,"v":7},{"s":"E","t":43,"v":14},{"s":"E","t":44,"v":13},{"s":"E","t":45,"v":7},{"s":"E","t":46,"v":16},{"s":"E","t":47,"v":8},{"s":"E","t":48,"v":7},{"s":"E","t":49,"v":8},{"s":"E","t":50,"v":8}
]
},
"columns": 2,
"spacing": {"row": 52, "column": 33},
"concat": [
{"width": 307, "height": 202, "data": {"name": "nr1"}, "title": {"text": "No Rebate in Session 1"},
 "encoding": {"x": {"field": "t", "type": "quantitative", "scale": {"domain": [0.5, 50.5], "nice": false, "zero": false}, "axis": {"title": "Period", "values": [1,2,3,4,5,6,7,8,9,10,11,12,13,14,15,16,17,18,19,20,21,22,23,24,25,26,27,28,29,30,31,32,33,34,35,36,37,38,39,40,41,42,43,44,45,46,47,48,49,50]}},
  "y": {"field": "v", "type": "quantitative", "scale": {"domain": [0, 25], "nice": false}, "axis": {"title": "Group contribution", "values": [0,5,10,15,20,25]}},
  "color": {"field": "s", "type": "nominal", "scale": {"domain": ["A","B","C","D","E","F"], "range": ["#1c1c1c","#7a7a7a","#b0b0b0","#8e8e8e","#666666","#b8b8b8"]}, "legend": null},
  "shape": {"field": "s", "type": "nominal", "scale": {"domain": ["A","B","C","D","E","F"], "range": ["diamond","square","triangle-up","M-1,-1L1,1M-1,1L1,-1","M-1,-1L1,1M-1,1L1,-1M0,-1L0,1","circle"]}, "legend": null}},
 "layer": [
  {"mark": {"type": "line", "strokeWidth": 1}},
  {"transform": [{"filter": {"field": "s", "oneOf": ["A","B","C"]}}], "mark": {"type": "point", "filled": true, "opacity": 1, "size": 24}},
  {"transform": [{"filter": {"field": "s", "oneOf": ["D","E","F"]}}], "mark": {"type": "point", "filled": false, "opacity": 1, "size": 24, "strokeWidth": 1}}
 ]},
{"width": 300, "height": 202, "data": {"name": "nr2"}, "title": {"text": "No Rebate in Session 2"},
 "encoding": {"x": {"field": "t", "type": "quantitative", "scale": {"domain": [0.5, 50.5], "nice": false, "zero": false}, "axis": {"title": "Period", "values": [1,2,3,4,5,6,7,8,9,10,11,12,13,14,15,16,17,18,19,20,21,22,23,24,25,26,27,28,29,30,31,32,33,34,35,36,37,38,39,40,41,42,43,44,45,46,47,48,49,50]}},
  "y": {"field": "v", "type": "quantitative", "scale": {"domain": [0, 25], "nice": false}, "axis": {"title": "Group contribution", "values": [0,5,10,15,20,25]}},
  "color": {"field": "s", "type": "nominal", "scale": {"domain": ["A","B","C","D","E","F"], "range": ["#1c1c1c","#7a7a7a","#b0b0b0","#8e8e8e","#666666","#b8b8b8"]}, "legend": null},
  "shape": {"field": "s", "type": "nominal", "scale": {"domain": ["A","B","C","D","E","F"], "range": ["diamond","square","triangle-up","M-1,-1L1,1M-1,1L1,-1","M-1,-1L1,1M-1,1L1,-1M0,-1L0,1","circle"]}, "legend": null}},
 "layer": [
  {"mark": {"type": "line", "strokeWidth": 1}},
  {"transform": [{"filter": {"field": "s", "oneOf": ["A","B","C"]}}], "mark": {"type": "point", "filled": true, "opacity": 1, "size": 24}},
  {"transform": [{"filter": {"field": "s", "oneOf": ["D","E","F"]}}], "mark": {"type": "point", "filled": false, "opacity": 1, "size": 24, "strokeWidth": 1}}
 ]},
{"width": 307, "height": 202, "data": {"name": "u1"}, "title": {"text": "Utilization in Session 1"},
 "encoding": {"x": {"field": "t", "type": "quantitative", "scale": {"domain": [0.5, 50.5], "nice": false, "zero": false}, "axis": {"title": "Period", "values": [1,2,3,4,5,6,7,8,9,10,11,12,13,14,15,16,17,18,19,20,21,22,23,24,25,26,27,28,29,30,31,32,33,34,35,36,37,38,39,40,41,42,43,44,45,46,47,48,49,50]}},
  "y": {"field": "v", "type": "quantitative", "scale": {"domain": [0, 25], "nice": false}, "axis": {"title": "Group contribution", "values": [0,5,10,15,20,25]}},
  "color": {"field": "s", "type": "nominal", "scale": {"domain": ["A","B","C","D","E","F"], "range": ["#1c1c1c","#7a7a7a","#b0b0b0","#8e8e8e","#666666","#b8b8b8"]}, "legend": null},
  "shape": {"field": "s", "type": "nominal", "scale": {"domain": ["A","B","C","D","E","F"], "range": ["diamond","square","triangle-up","M-1,-1L1,1M-1,1L1,-1","M-1,-1L1,1M-1,1L1,-1M0,-1L0,1","circle"]}, "legend": null}},
 "layer": [
  {"mark": {"type": "line", "strokeWidth": 1}},
  {"transform": [{"filter": {"field": "s", "oneOf": ["A","B","C"]}}], "mark": {"type": "point", "filled": true, "opacity": 1, "size": 24}},
  {"transform": [{"filter": {"field": "s", "oneOf": ["D","E","F"]}}], "mark": {"type": "point", "filled": false, "opacity": 1, "size": 24, "strokeWidth": 1}}
 ]},
{"width": 300, "height": 202, "data": {"name": "u2"}, "title": {"text": "Utilization in Session 2"},
 "encoding": {"x": {"field": "t", "type": "quantitative", "scale": {"domain": [0.5, 50.5], "nice": false, "zero": false}, "axis": {"title": "Period", "values": [1,2,3,4,5,6,7,8,9,10,11,12,13,14,15,16,17,18,19,20,21,22,23,24,25,26,27,28,29,30,31,32,33,34,35,36,37,38,39,40,41,42,43,44,45,46,47,48,49,50]}},
  "y": {"field": "v", "type": "quantitative", "scale": {"domain": [0, 25], "nice": false}, "axis": {"title": "Group contribution", "values": [0,5,10,15,20,25]}},
  "color": {"field": "s", "type": "nominal", "scale": {"domain": ["A","B","C","D","E","F"], "range": ["#1c1c1c","#7a7a7a","#b0b0b0","#8e8e8e","#666666","#b8b8b8"]}, "legend": null},
  "shape": {"field": "s", "type": "nominal", "scale": {"domain": ["A","B","C","D","E","F"], "range": ["diamond","square","triangle-up","M-1,-1L1,1M-1,1L1,-1","M-1,-1L1,1M-1,1L1,-1M0,-1L0,1","circle"]}, "legend": null}},
 "layer": [
  {"mark": {"type": "line", "strokeWidth": 1}},
  {"transform": [{"filter": {"field": "s", "oneOf": ["A","B","C"]}}], "mark": {"type": "point", "filled": true, "opacity": 1, "size": 24}},
  {"transform": [{"filter": {"field": "s", "oneOf": ["D","E","F"]}}], "mark": {"type": "point", "filled": false, "opacity": 1, "size": 24, "strokeWidth": 1}}
 ]}
],
"config": {
 "view": {"stroke": "#9a9a9a", "strokeWidth": 1},
 "title": {"font": "Liberation Serif", "fontSize": 17, "fontWeight": "normal", "color": "#000", "offset": 20, "anchor": "middle"},
 "axisX": {"labelExpr": "datum.value % 2 == 1 ? datum.label : ''", "labelOverlap": false, "labelFlush": false, "grid": false,
   "tickSize": 2, "tickColor": "#000", "domainColor": "#000", "labelFont": "Liberation Sans", "labelFontSize": 8.5, "labelColor": "#000", "labelPadding": 2,
   "titleFont": "Liberation Serif", "titleFontSize": 15, "titleFontWeight": "normal", "titleColor": "#000", "titlePadding": 13},
 "axisY": {"labelExpr": "datum.value == 0 ? '1' : datum.label", "grid": true, "gridColor": "#3a3a3a", "gridWidth": 1,
   "tickSize": 3, "tickColor": "#000", "domainColor": "#000", "labelFont": "Liberation Sans", "labelFontSize": 8.5, "labelColor": "#000", "labelPadding": 2,
   "titleFont": "Liberation Serif", "titleFontSize": 18, "titleFontWeight": "normal", "titleColor": "#000", "titlePadding": 6}
}
}
